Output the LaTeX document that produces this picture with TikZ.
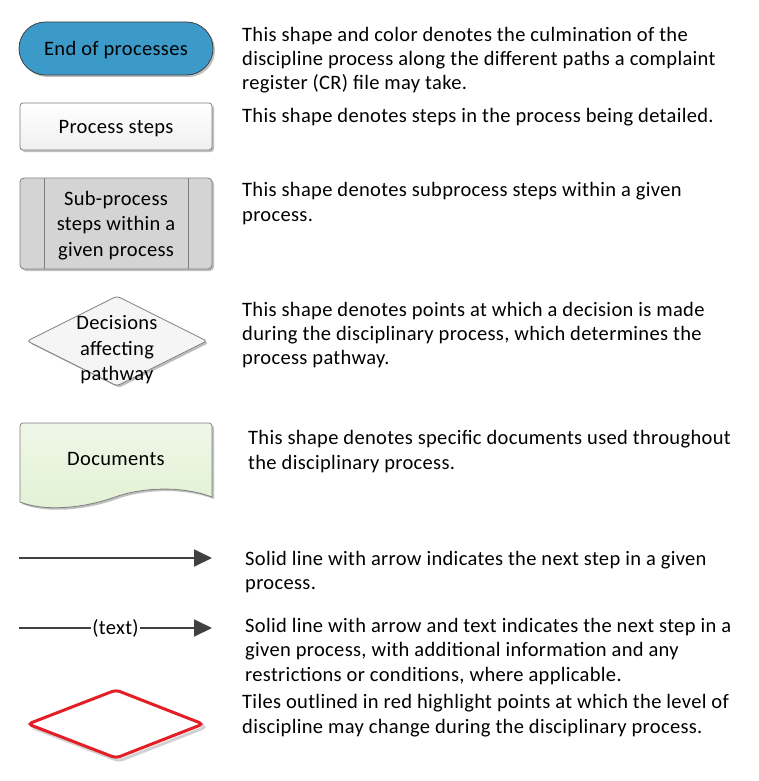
\documentclass[tikz,border=0pt]{standalone}
\usepackage{fontspec}
\setmainfont{Carlito}[LetterSpace=1.6]
\usetikzlibrary{arrows.meta,shapes.geometric,shadows}
\definecolor{endblue}{HTML}{3C9AC8}
\definecolor{edgegray}{HTML}{7F7F7F}
\definecolor{subgray}{HTML}{D4D4D4}
\definecolor{docgreen}{HTML}{E2F1D4}
\definecolor{arrgray}{HTML}{404040}
\definecolor{tilered}{HTML}{E31E26}
\tikzset{
  desc/.style={anchor=west, align=left, inner sep=0pt, yshift=-2pt, font=\fontsize{20.5}{24.3}\selectfont},
  shapetext/.style={align=center, inner sep=0pt, yshift=-2pt, font=\fontsize{20.5}{25.5}\selectfont},
  sh/.style={drop shadow={shadow xshift=2pt, shadow yshift=-2pt, opacity=0.25, fill=black}},
  arr/.style={draw=arrgray, line width=1.8pt, -{Triangle[length=18pt,width=17pt]}},
}
\begin{document}
\begin{tikzpicture}[x=1pt,y=-1pt]
\useasboundingbox[fill=white] (0,0) rectangle (758,781);

% End of processes
\node[sh, draw=arrgray, line width=0.8pt, fill=endblue, rounded corners=26.5pt,
      minimum width=194pt, minimum height=53pt] (endp) at (116,48.5) {};
\node[shapetext] (endt) at (endp.center) {End of processes};

% Process steps
\node[sh, draw=edgegray, line width=0.8pt, top color=white, bottom color=gray!12, rounded corners=3pt,
      minimum width=192pt, minimum height=47pt] (proc) at (116,126.5) {};
\node[shapetext] (proct) at (proc.center) {Process steps};

% Sub-process
\node[sh, draw=edgegray, line width=0.8pt, fill=subgray, rounded corners=4pt,
      minimum width=192pt, minimum height=91pt] (sub) at (116,223.5) {};
\node[shapetext] (subt) at (sub.center) {Sub-process\\steps within a\\given process};
\draw[edgegray, line width=0.8pt] (44,178) -- (44,269);
\draw[edgegray, line width=0.8pt] (188,178) -- (188,269);

% Decision diamond
\node[sh, draw=edgegray, line width=0.8pt, fill=gray!8, diamond, aspect=2, inner sep=0pt,
      minimum width=180pt, minimum height=90pt, rounded corners=3pt] (dec) at (117,341) {};
\node[shapetext] (dectext) at (117,348) {Decisions\\affecting\\pathway};

% Documents
\path[draw=edgegray, line width=0.8pt, top color=docgreen!55, bottom color=docgreen, sh]
  (20,427) [rounded corners=3pt] -- (20,423) -- (212,423) [sharp corners] -- (212,497)
  .. controls (180,485) and (140,488) .. (115,497)
  .. controls (85,508) and (45,512) .. (20,502) -- cycle;
\node[shapetext] (doc) at (116,457) {Documents};

% Arrows
\coordinate (a1s) at (19,558);
\coordinate (a1e) at (212,558);
\draw[arr] (a1s) -- (a1e);
\coordinate (a2s) at (19,628);
\coordinate (a2e) at (212,628);
\draw[arr] (a2s) -- node[fill=white, inner sep=1pt, font=\fontsize{20.5}{22}\selectfont] (lbl) {(text)} (a2e);

% Red tile
\draw[gray!35, line width=3pt, rounded corners=4pt]
  (31,727) -- (119,693) -- (206,727) -- (119,761) -- cycle;
\draw[tilered, line width=3pt, rounded corners=4pt, fill=white]
  (28,724) -- (116,690) -- (203,724) -- (116,758) -- cycle;
\node[inner sep=0pt] (redtile) at (116,724) {};

% Descriptions
\node[desc] (d1) at (242,58) {This shape and color denotes the culmination of the\\discipline process along the different paths a complaint\\register (CR) file may take.};
\node[desc] (d2) at (242,115) {This shape denotes steps in the process being detailed.};
\node[desc] (d3) at (242,201.5) {This shape denotes subprocess steps within a given\\process.};
\node[desc] (d4) at (242,333) {This shape denotes points at which a decision is made\\during the disciplinary process, which determines the\\process pathway.};
\node[desc] (d5) at (248,449.5) {This shape denotes specific documents used throughout\\the disciplinary process.};
\node[desc] (d6) at (245,570) {Solid line with arrow indicates the next step in a given\\process.};
\node[desc] (d7) at (245,649.5) {Solid line with arrow and text indicates the next step in a\\given process, with additional information and any\\restrictions or conditions, where applicable.};
\node[desc] (d8) at (242,713.5) {Tiles outlined in red highlight points at which the level of\\discipline may change during the disciplinary process.};
\end{tikzpicture}
\end{document}
